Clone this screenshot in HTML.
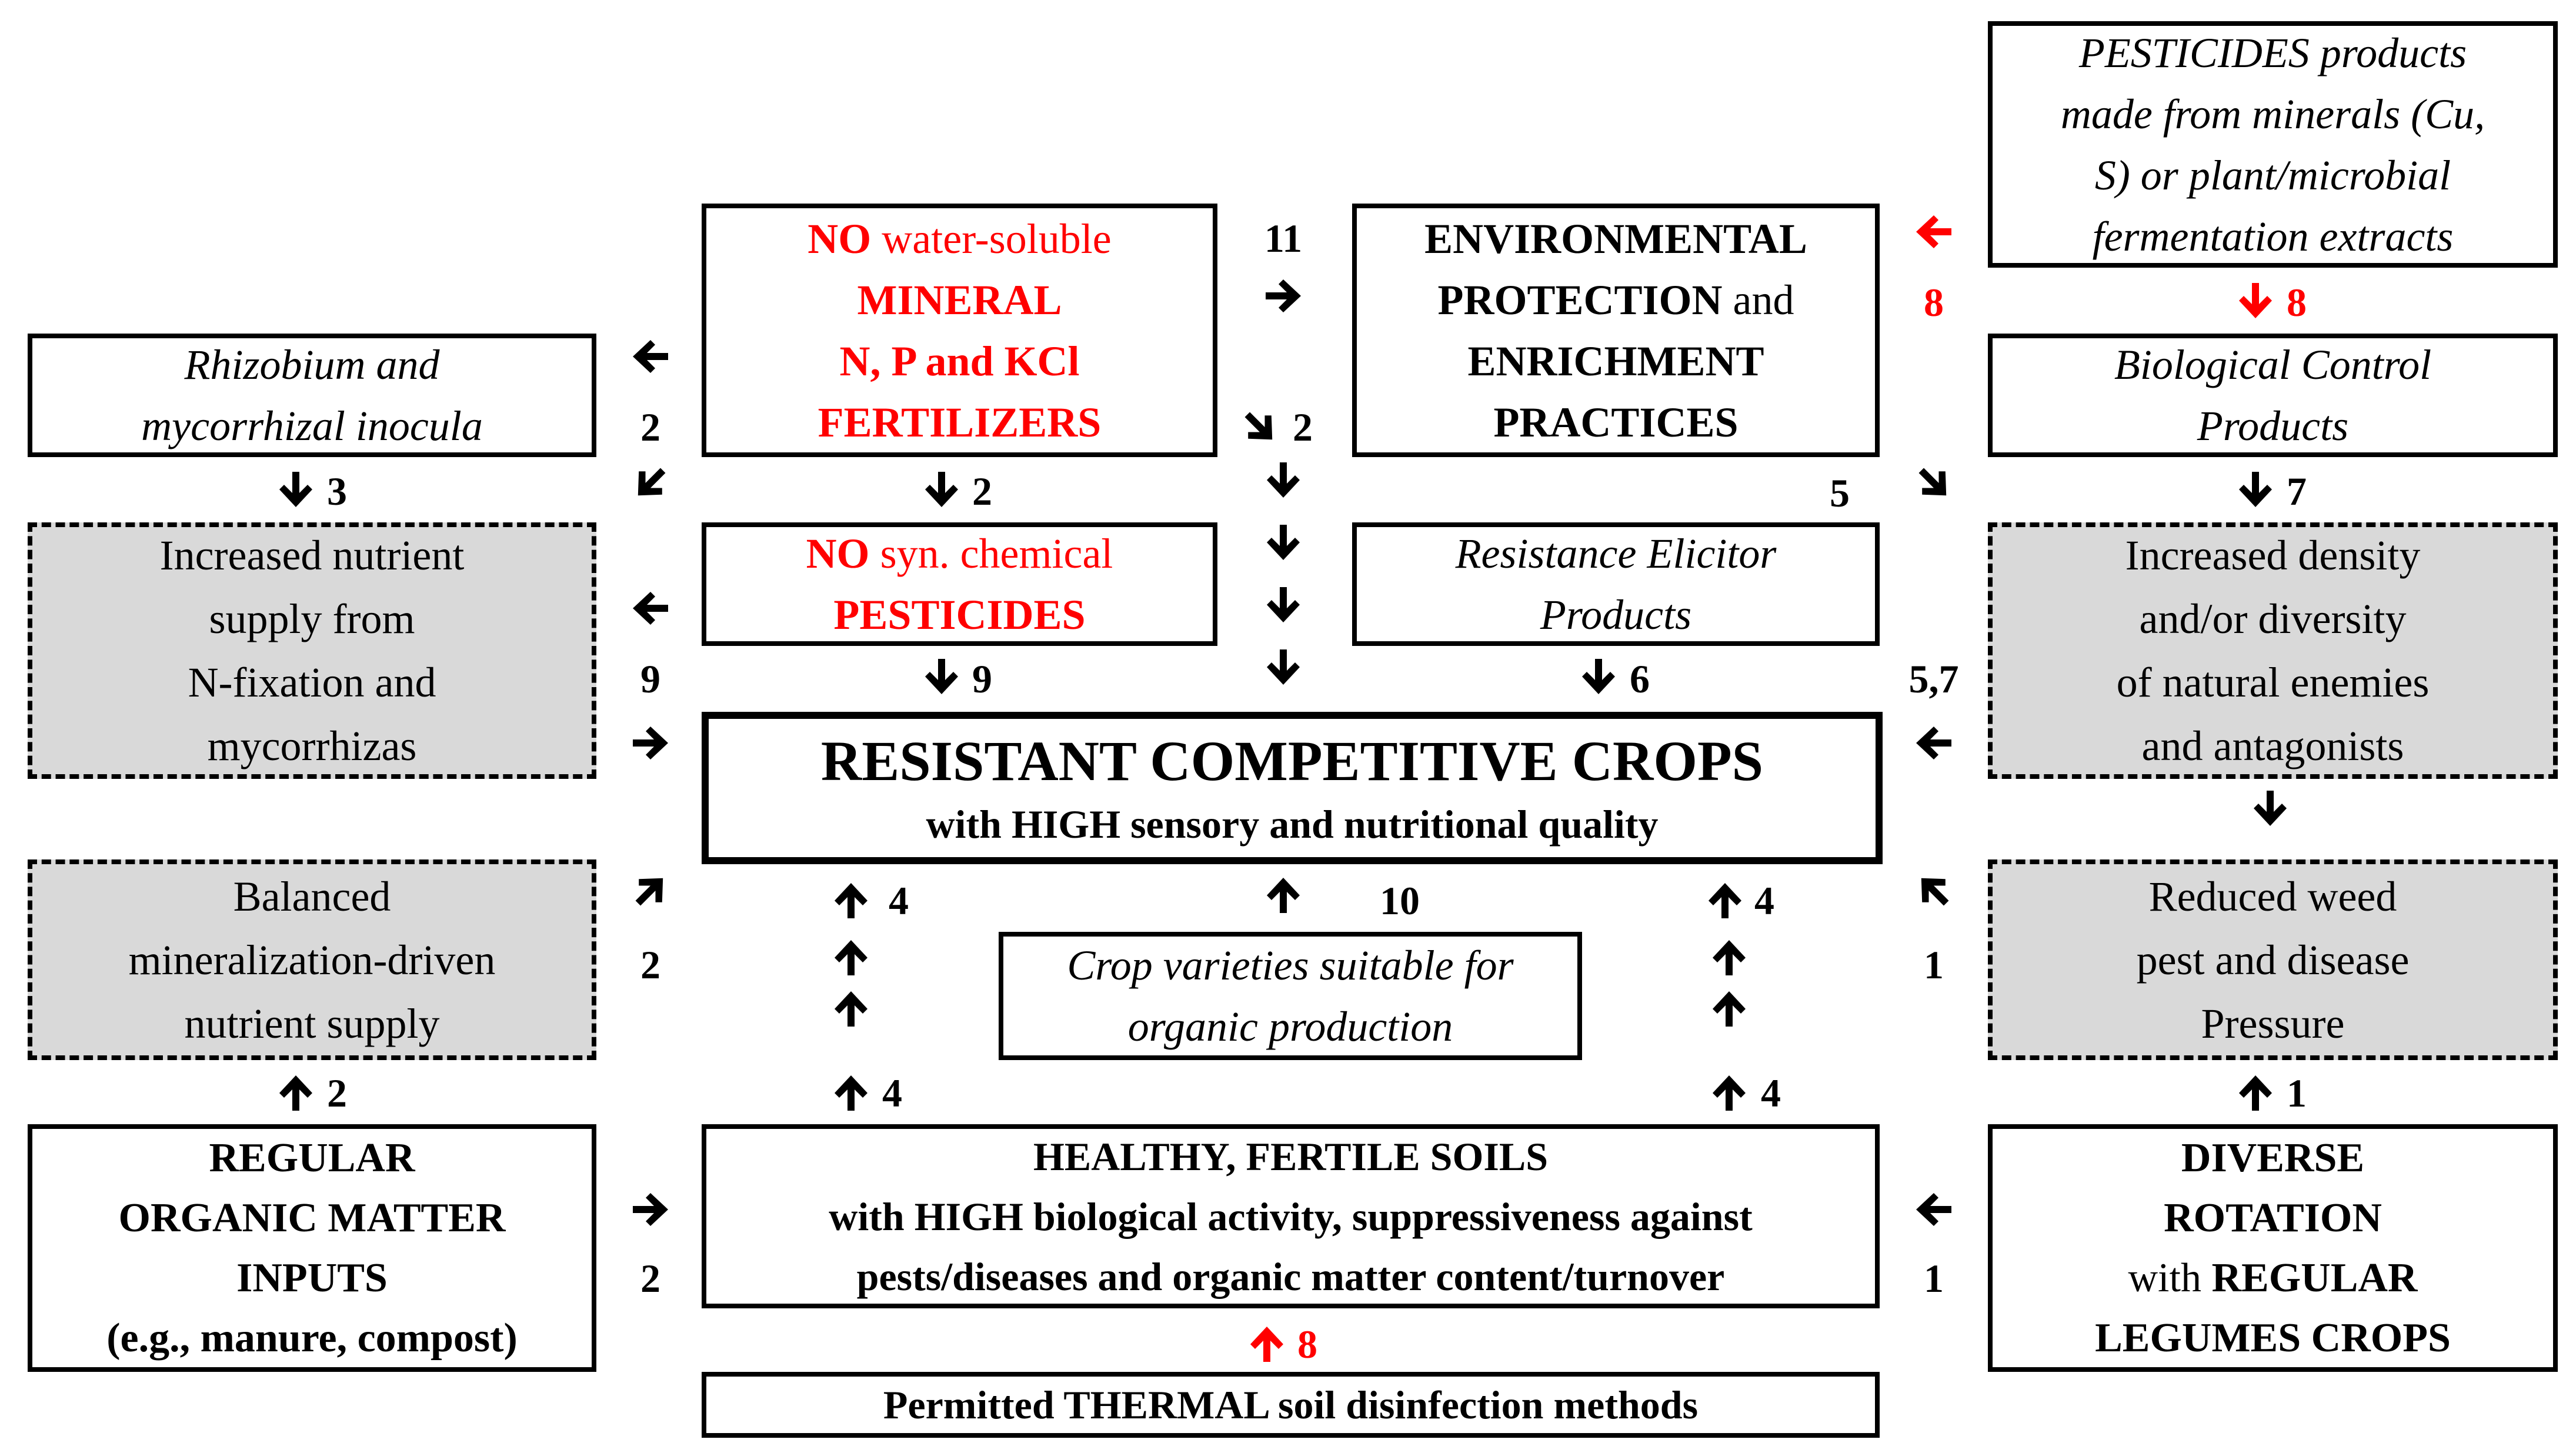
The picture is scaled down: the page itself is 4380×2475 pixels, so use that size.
<!DOCTYPE html>
<html><head><meta charset="utf-8"><style>
body{margin:0;width:4380px;height:2475px;background:#fff;position:relative;overflow:hidden;font-family:"Liberation Serif",serif;}
.b{position:absolute;box-sizing:border-box;border:8px solid #000;background:#fff;display:flex;flex-direction:column;justify-content:center;align-items:center;text-align:center;font-size:72px;line-height:104px;color:#000;}
.d{border:8px dashed #000;background:#d9d9d9;}
.i{font-style:italic;}
.bd{font-weight:bold;}
.r{color:#f00;}
.l{position:absolute;transform:translate(-50%,-50%);font-weight:bold;font-size:68px;line-height:1;white-space:nowrap;}
svg{position:absolute;left:0;top:0;}
</style></head><body>

<div class="b i" style="left:47px;top:567px;width:967px;height:210px;">Rhizobium and<br>mycorrhizal inocula</div>
<div class="b r" style="left:1193px;top:346px;width:877px;height:431px;"><span><b>NO</b> water-soluble</span><b>MINERAL</b><b>N, P and KCl</b><b>FERTILIZERS</b></div>
<div class="b" style="left:2299px;top:346px;width:897px;height:431px;"><b>ENVIRONMENTAL</b><span><b>PROTECTION</b> and</span><b>ENRICHMENT</b><b>PRACTICES</b></div>
<div class="b i" style="left:3380px;top:36px;width:969px;height:419px;">PESTICIDES products<br>made from minerals (Cu,<br>S) or plant/microbial<br>fermentation extracts</div>
<div class="b i" style="left:3380px;top:567px;width:969px;height:210px;">Biological Control<br>Products</div>

<div class="b d" style="left:47px;top:888px;width:967px;height:436px;line-height:108px;">Increased nutrient<br>supply from<br>N-fixation and<br>mycorrhizas</div>
<div class="b r" style="left:1193px;top:888px;width:877px;height:210px;"><span><b>NO</b> syn. chemical</span><b>PESTICIDES</b></div>
<div class="b i" style="left:2299px;top:888px;width:897px;height:210px;">Resistance Elicitor<br>Products</div>
<div class="b d" style="left:3380px;top:888px;width:969px;height:436px;line-height:108px;">Increased density<br>and/or diversity<br>of natural enemies<br>and antagonists</div>

<div class="b bd" style="left:1193px;top:1210px;width:2008px;height:259px;border-width:12px;line-height:1.2;"><span style="font-size:96px;">RESISTANT COMPETITIVE CROPS</span><span style="font-size:68px;margin-top:10px;">with HIGH sensory and nutritional quality</span></div>

<div class="b d" style="left:47px;top:1461px;width:967px;height:341px;line-height:108px;">Balanced<br>mineralization-driven<br>nutrient supply</div>
<div class="b i" style="left:1698px;top:1584px;width:992px;height:218px;">Crop varieties suitable for<br>organic production</div>
<div class="b d" style="left:3380px;top:1461px;width:969px;height:341px;line-height:108px;">Reduced weed<br>pest and disease<br>Pressure</div>

<div class="b bd" style="left:47px;top:1911px;width:967px;height:421px;line-height:102px;font-size:70px;">REGULAR<br>ORGANIC MATTER<br>INPUTS<br>(e.g., manure, compost)</div>
<div class="b bd" style="left:1193px;top:1911px;width:2003px;height:313px;line-height:102px;font-size:68px;">HEALTHY, FERTILE SOILS<br>with HIGH biological activity, suppressiveness against<br>pests/diseases and organic matter content/turnover</div>
<div class="b" style="left:3380px;top:1911px;width:969px;height:421px;line-height:102px;font-size:70px;"><b>DIVERSE</b><b>ROTATION</b><span>with <b>REGULAR</b></span><b>LEGUMES CROPS</b></div>
<div class="b bd" style="left:1193px;top:2332px;width:2003px;height:112px;font-size:68px;">Permitted THERMAL soil disinfection methods</div>

<svg width="4380" height="2475" viewBox="0 0 4380 2475">
<defs><polygon id="a" points="24,0 36,0 36,36 50,22 58,30 30,60 2,30 10,22 24,36"/></defs>
<g fill="#000">
<use href="#a" transform="translate(1106,606) rotate(90) translate(-30,-30)"/>
<use href="#a" transform="translate(1106,821) rotate(45) translate(-30,-30)"/>
<use href="#a" transform="translate(1106,1034) rotate(90) translate(-30,-30)"/>
<use href="#a" transform="translate(1106,1263) rotate(-90) translate(-30,-30)"/>
<use href="#a" transform="translate(1106,1514) rotate(-135) translate(-30,-30)"/>
<use href="#a" transform="translate(1106,2056) rotate(-90) translate(-30,-30)"/>
<use href="#a" transform="translate(2182,503) rotate(-90) translate(-30,-30)"/>
<use href="#a" transform="translate(2142,726) rotate(-45) translate(-30,-30)"/>
<use href="#a" transform="translate(2182,816) translate(-30,-30)"/>
<use href="#a" transform="translate(2182,922) translate(-30,-30)"/>
<use href="#a" transform="translate(2182,1028) translate(-30,-30)"/>
<use href="#a" transform="translate(2182,1134) translate(-30,-30)"/>
<use href="#a" transform="translate(2182,1522) rotate(180) translate(-30,-30)"/>
<use href="#a" transform="translate(3288,821) rotate(-45) translate(-30,-30)"/>
<use href="#a" transform="translate(3288,1263) rotate(90) translate(-30,-30)"/>
<use href="#a" transform="translate(3288,1514) rotate(135) translate(-30,-30)"/>
<use href="#a" transform="translate(3288,2056) rotate(90) translate(-30,-30)"/>
<use href="#a" transform="translate(503,832) translate(-30,-30)"/>
<use href="#a" transform="translate(503,1858) rotate(180) translate(-30,-30)"/>
<use href="#a" transform="translate(1601,832) translate(-30,-30)"/>
<use href="#a" transform="translate(1601,1150) translate(-30,-30)"/>
<use href="#a" transform="translate(1447,1531) rotate(180) translate(-30,-30)"/>
<use href="#a" transform="translate(1447,1628) rotate(180) translate(-30,-30)"/>
<use href="#a" transform="translate(1447,1715) rotate(180) translate(-30,-30)"/>
<use href="#a" transform="translate(1447,1858) rotate(180) translate(-30,-30)"/>
<use href="#a" transform="translate(2933,1531) rotate(180) translate(-30,-30)"/>
<use href="#a" transform="translate(2940,1628) rotate(180) translate(-30,-30)"/>
<use href="#a" transform="translate(2940,1715) rotate(180) translate(-30,-30)"/>
<use href="#a" transform="translate(2940,1858) rotate(180) translate(-30,-30)"/>
<use href="#a" transform="translate(2718,1150) translate(-30,-30)"/>
<use href="#a" transform="translate(3835,832) translate(-30,-30)"/>
<use href="#a" transform="translate(3860,1374) translate(-30,-30)"/>
<use href="#a" transform="translate(3835,1858) rotate(180) translate(-30,-30)"/>
</g>
<g fill="#f00">
<use href="#a" transform="translate(3288,394) rotate(90) translate(-30,-30)"/>
<use href="#a" transform="translate(3835,511) translate(-30,-30)"/>
<use href="#a" transform="translate(2154,2285) rotate(180) translate(-30,-30)"/>
</g>
</svg>

<div class="l" style="left:1106px;top:726px;">2</div>
<div class="l" style="left:1106px;top:1154px;">9</div>
<div class="l" style="left:1106px;top:1640px;">2</div>
<div class="l" style="left:1106px;top:2173px;">2</div>
<div class="l" style="left:2182px;top:405px;">11</div>
<div class="l" style="left:2215px;top:726px;">2</div>
<div class="l" style="left:2380px;top:1531px;">10</div>
<div class="l r" style="left:3288px;top:514px;">8</div>
<div class="l" style="left:3128px;top:838px;">5</div>
<div class="l" style="left:3288px;top:1154px;">5,7</div>
<div class="l" style="left:3288px;top:1640px;">1</div>
<div class="l" style="left:3288px;top:2173px;">1</div>
<div class="l" style="left:573px;top:835px;">3</div>
<div class="l" style="left:573px;top:1858px;">2</div>
<div class="l" style="left:1670px;top:835px;">2</div>
<div class="l" style="left:1670px;top:1154px;">9</div>
<div class="l" style="left:1528px;top:1531px;">4</div>
<div class="l" style="left:1517px;top:1858px;">4</div>
<div class="l" style="left:3000px;top:1531px;">4</div>
<div class="l" style="left:3011px;top:1858px;">4</div>
<div class="l" style="left:2788px;top:1154px;">6</div>
<div class="l r" style="left:3905px;top:514px;">8</div>
<div class="l" style="left:3905px;top:835px;">7</div>
<div class="l" style="left:3905px;top:1858px;">1</div>
<div class="l r" style="left:2223px;top:2285px;">8</div>

</body></html>
